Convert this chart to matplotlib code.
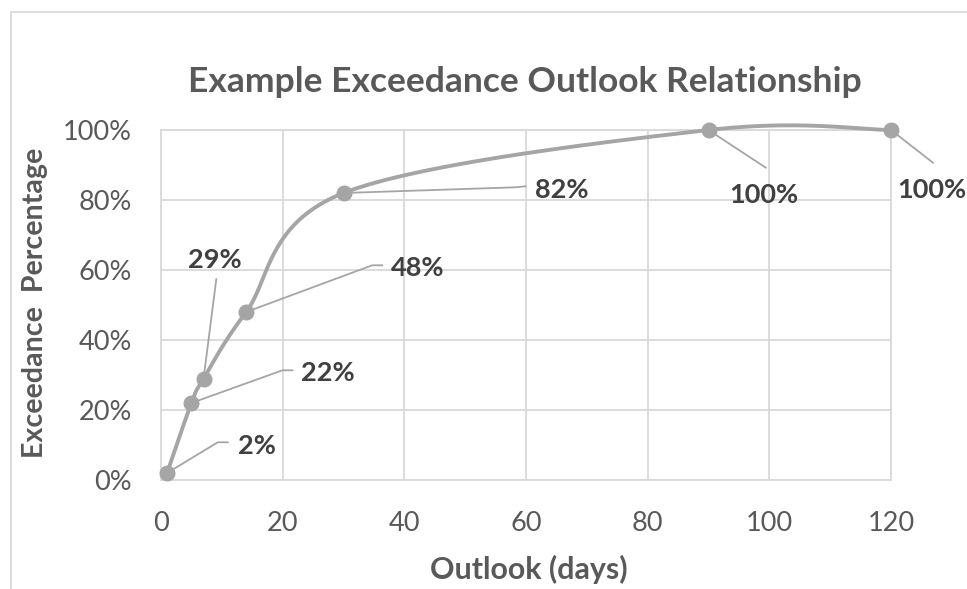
import matplotlib
matplotlib.use("Agg")
import matplotlib.pyplot as plt
import numpy as np
from matplotlib.ticker import PercentFormatter
from matplotlib.transforms import IdentityTransform
from matplotlib.patches import Rectangle

# Outlook length (days) vs. exceedance percentage
outlook_days = [1, 5, 7, 14, 30, 90, 120]
exceedance_pct = [2, 22, 29, 48, 82, 100, 100]
x_ticks = [0, 20, 40, 60, 80, 100, 120]
y_ticks = [0, 20, 40, 60, 80, 100]

title_text = "Example Exceedance Outlook Relationship"
x_label = "Outlook (days)"
y_label = "Exceedance  Percentage"

# Label placement per point, in pixels relative to the marker (right, down):
# leader-line vertices, text anchor, horizontal alignment
label_layout = [
    ([(50.7, -30.7), (60.7, -30.7)], (70.7, -19), "left"),
    ([(91, -32.7), (101, -32.7)], (109.3, -22), "left"),
    ([(12.7, -99.3)], (11.6, -111), "center"),
    ([(126, -46.7), (136, -46.7)], (144.3, -35.7), "left"),
    ([(172, -5.7), (182, -6.7)], (191, 5.3), "left"),
    ([(57.3, 37.7)], (55.8, 73), "center"),
    ([(42, 32.7)], (6.3, 68), "left"),
]

W, H, DPI = 967, 589, 100
LINE = "#a5a5a5"
GRID = "#d9d9d9"
TXT = "#595959"
LBL = "#404040"
FONT = "Lato"

plt.rcParams["font.family"] = [FONT, "DejaVu Sans"]

fig = plt.figure(figsize=(W / DPI, H / DPI), dpi=DPI)
fig.patch.set_facecolor("white")

# chart-area frame
fig.add_artist(Rectangle((11 / W, -0.1), 1.2, 1 - 12 / H + 0.1,
                         transform=fig.transFigure, fill=False,
                         edgecolor=GRID, linewidth=1.3))

px_l, px_r, px_t, px_b = 161, 891, 130, 480
ax = fig.add_axes([px_l / W, 1 - px_b / H, (px_r - px_l) / W, (px_b - px_t) / H])
ax.set_xlim(0, 120)
ax.set_ylim(0, 100)
ax.set_xticks(x_ticks)
ax.set_yticks(y_ticks)
ax.yaxis.set_major_formatter(PercentFormatter(decimals=0))
ax.grid(True, color=GRID, linewidth=1.3)
ax.set_axisbelow(True)
for s in ax.spines.values():
    s.set_color(GRID)
    s.set_linewidth(1.3)
ax.tick_params(length=0, labelsize=19.5, labelcolor=TXT)
ax.tick_params(axis="x", pad=22)
ax.tick_params(axis="y", pad=21)


def smooth_curve(xs, ys, n=60):
    """Piecewise cubic Bezier through the points (Catmull-Rom style tangents)."""
    P = np.column_stack([xs, ys]).astype(float)
    ext = np.vstack([P[0], P, P[-1]])
    out = []
    t = np.linspace(0, 1, n)[:, None]
    for i in range(len(P) - 1):
        p0, p3 = ext[i + 1], ext[i + 2]
        c1 = p0 + (ext[i + 2] - ext[i]) / 6.0
        c2 = p3 - (ext[i + 3] - ext[i + 1]) / 6.0
        seg = ((1 - t) ** 3) * p0 + 3 * ((1 - t) ** 2) * t * c1 \
            + 3 * (1 - t) * t ** 2 * c2 + t ** 3 * p3
        out.append(seg if i == 0 else seg[1:])
    c = np.vstack(out)
    return c[:, 0], c[:, 1]


cx, cy = smooth_curve(outlook_days, exceedance_pct)
ax.plot(cx, cy, color=LINE, linewidth=2.8, solid_capstyle="round", zorder=3,
        clip_on=False)
ax.plot(outlook_days, exceedance_pct, linestyle="none", marker="o",
        markersize=10.5, color=LINE, zorder=4, clip_on=False)

# data labels with leader lines
ident = IdentityTransform()
for xv, yv, (leader, (tx, ty), ha) in zip(outlook_days, exceedance_pct, label_layout):
    bx, by = ax.transData.transform((xv, yv))
    pts = [(bx, by)] + [(bx + dx, by - dy) for dx, dy in leader]
    lx, ly = zip(*pts)
    fig.add_artist(plt.Line2D(lx, ly, transform=ident, color=LINE,
                              linewidth=1.3, zorder=2))
    fig.text(bx + tx, by - ty, f"{yv}%", transform=ident, ha=ha,
             va="baseline", fontsize=19.5, fontweight="bold", color=LBL,
             zorder=5)

renderer = fig.canvas.get_renderer()


def fit(t, target, along="width"):
    bb = t.get_window_extent(renderer)
    cur = bb.width if along == "width" else bb.height
    t.set_fontsize(t.get_fontsize() * target / cur)


title = fig.text(525 / W, 1 - 92 / H, title_text, ha="center", va="baseline",
                 fontsize=22, fontweight="bold", color=TXT)
fit(title, 673)

xl = fig.text(529 / W, 1 - 579 / H, x_label, ha="center", va="baseline",
              fontsize=19, fontweight="bold", color=TXT)
fit(xl, 198)

yl = fig.text(35 / W, 1 - 303 / H, y_label, ha="center", va="center",
              rotation=90, fontsize=19, fontweight="bold", color=TXT)
fit(yl, 310, along="height")

fig.savefig("out.png", dpi=DPI, facecolor="white")
